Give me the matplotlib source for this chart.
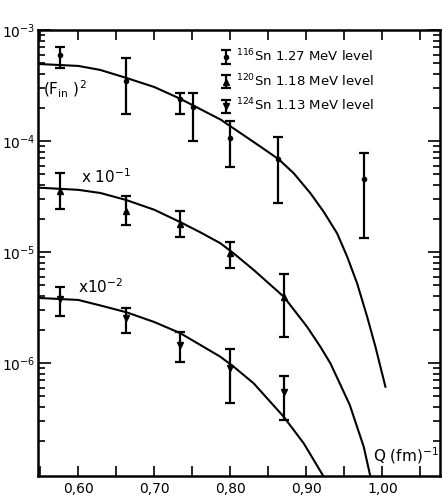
import numpy as np
import matplotlib
matplotlib.use("Agg")
import matplotlib.pyplot as plt
from matplotlib.ticker import FixedLocator, FixedFormatter, LogLocator, NullFormatter

plt.rcParams['font.family'] = ['DejaVu Sans']

# measured points: 116Sn 1.27 MeV level
q_116 = [0.576, 0.663, 0.734, 0.751, 0.800, 0.863, 0.976]
f_116 = [5.96e-4, 3.47e-4, 2.40e-4, 2.02e-4, 1.06e-4, 6.9e-5, 4.55e-5]
lo_116 = [4.55e-4, 1.75e-4, 1.75e-4, 1.0e-4, 5.83e-5, 2.76e-5, 1.34e-5]
hi_116 = [7.03e-4, 5.6e-4, 2.7e-4, 2.7e-4, 1.51e-4, 1.09e-4, 7.8e-5]

# 120Sn 1.18 MeV level (x 10^-1)
q_120 = [0.576, 0.663, 0.734, 0.800, 0.870]
f_120 = [3.55e-5, 2.34e-5, 1.78e-5, 9.8e-6, 3.93e-6]
lo_120 = [2.45e-5, 1.75e-5, 1.36e-5, 7.2e-6, 1.71e-6]
hi_120 = [5.1e-5, 3.2e-5, 2.35e-5, 1.23e-5, 6.3e-6]

# 124Sn 1.13 MeV level (x 10^-2)
q_124 = [0.576, 0.663, 0.734, 0.800, 0.870]
f_124 = [3.8e-6, 2.54e-6, 1.44e-6, 9.1e-7, 5.5e-7]
lo_124 = [2.65e-6, 1.86e-6, 1.02e-6, 4.36e-7, 3.1e-7]
hi_124 = [4.85e-6, 3.15e-6, 1.9e-6, 1.35e-6, 7.6e-7]

# theoretical curves
qc_1 = [0.547, 0.600, 0.629, 0.663, 0.700, 0.734, 0.787, 0.8395, 0.8636, 0.8833,
        0.9053, 0.9228, 0.9404, 0.9536, 0.9667, 0.9799, 0.9908, 1.0039]
fc_1 = [4.94e-4, 4.74e-4, 4.36e-4, 3.7e-4, 3.06e-4, 2.4e-4, 1.56e-4, 8.9e-5, 6.84e-5,
        5.12e-5, 3.38e-5, 2.3e-5, 1.47e-5, 9.08e-6, 5.22e-6, 2.61e-6, 1.40e-6, 6.12e-7]
qc_2 = [0.547, 0.600, 0.629, 0.663, 0.700, 0.734, 0.760, 0.7868, 0.8043, 0.8307,
        0.8702, 0.9009, 0.9184, 0.9316, 0.957, 0.9754, 0.9842]
fc_2 = [3.8e-5, 3.63e-5, 3.4e-5, 2.94e-5, 2.4e-5, 1.86e-5, 1.51e-5, 1.2e-5, 9.72e-6,
        6.89e-6, 3.96e-6, 2.12e-6, 1.4e-6, 9.93e-7, 4.2e-7, 1.76e-7, 9.46e-8]
qc_3 = [0.547, 0.600, 0.629, 0.663, 0.700, 0.734, 0.7868, 0.8043, 0.8307, 0.8702,
        0.8965, 0.9228]
fc_3 = [3.86e-6, 3.7e-6, 3.3e-6, 2.87e-6, 2.34e-6, 1.86e-6, 1.14e-6, 9.27e-7, 6.56e-7,
        3.28e-7, 1.89e-7, 9.46e-8]

x_ticks = [0.60, 0.70, 0.80, 0.90, 1.00]
x_labels = ['0,60', '0,70', '0,80', '0,90', '1,00']
y_ticks = [1e-6, 1e-5, 1e-4, 1e-3]
y_labels = [r'$10^{-6}$', r'$10^{-5}$', r'$10^{-4}$', r'$10^{-3}$']

fig = plt.figure(figsize=(4.42, 4.99), dpi=100)
ax = fig.add_axes([0.086, 0.046, 0.91, 0.894])

for q, f in [(qc_1, fc_1), (qc_2, fc_2), (qc_3, fc_3)]:
    ax.plot(q, f, color='black', lw=1.5, solid_joinstyle='round')


def err(f, lo, hi):
    f = np.array(f)
    return [f - np.array(lo), np.array(hi) - f]


kw = dict(color='black', ecolor='black', elinewidth=1.6, capsize=3.5, capthick=1.6, ls='none')
h1 = ax.errorbar(q_116, f_116, yerr=err(f_116, lo_116, hi_116), fmt='o', ms=3, **kw)
h2 = ax.errorbar(q_120, f_120, yerr=err(f_120, lo_120, hi_120), fmt='^', ms=5, **kw)
h3 = ax.errorbar(q_124, f_124, yerr=err(f_124, lo_124, hi_124), fmt='v', ms=5, **kw)

ax.set_yscale('log')
ax.set_xlim(0.547, 1.076)
ax.set_ylim(9.6e-8, 1e-3)

ax.xaxis.set_major_locator(FixedLocator(x_ticks))
ax.xaxis.set_major_formatter(FixedFormatter(x_labels))
ax.xaxis.set_minor_locator(FixedLocator(np.arange(0.55, 1.08, 0.1)))
ax.yaxis.set_major_locator(FixedLocator(y_ticks))
ax.yaxis.set_major_formatter(FixedFormatter(y_labels))
ax.yaxis.set_minor_locator(LogLocator(base=10, subs=np.arange(2, 10), numticks=20))
ax.yaxis.set_minor_formatter(NullFormatter())

ax.tick_params(which='both', direction='in', top=True, right=True, width=1.2, labelsize=10)
ax.tick_params(which='major', axis='y', length=9, pad=2)
ax.tick_params(which='minor', axis='y', length=5)
ax.tick_params(which='both', axis='x', length=7, pad=4)
for s in ax.spines.values():
    s.set_linewidth(1.8)

ax.text(0.554, 2.9e-4, r'(F$_{\rm in}$ )$^2$', fontsize=11, va='center', ha='left')
ax.text(0.603, 4.74e-5, r'x 10$^{-1}$', fontsize=11, va='center', ha='left')
ax.text(0.600, 4.84e-6, r'x10$^{-2}$', fontsize=11, va='center', ha='left')
ax.text(0.988, 1.48e-7, r'Q (fm)$^{-1}$', fontsize=11, va='center', ha='left')

ax.legend([h1, h2, h3],
          [r'$^{116}$Sn 1.27 MeV level', r'$^{120}$Sn 1.18 MeV level', r'$^{124}$Sn 1.13 MeV level'],
          loc='upper left', bbox_to_anchor=(0.432, 0.98), frameon=False, fontsize=9.5,
          handlelength=0.8, handletextpad=0.3, labelspacing=0.6, borderpad=0.2)

fig.savefig('out.png', dpi=100)
